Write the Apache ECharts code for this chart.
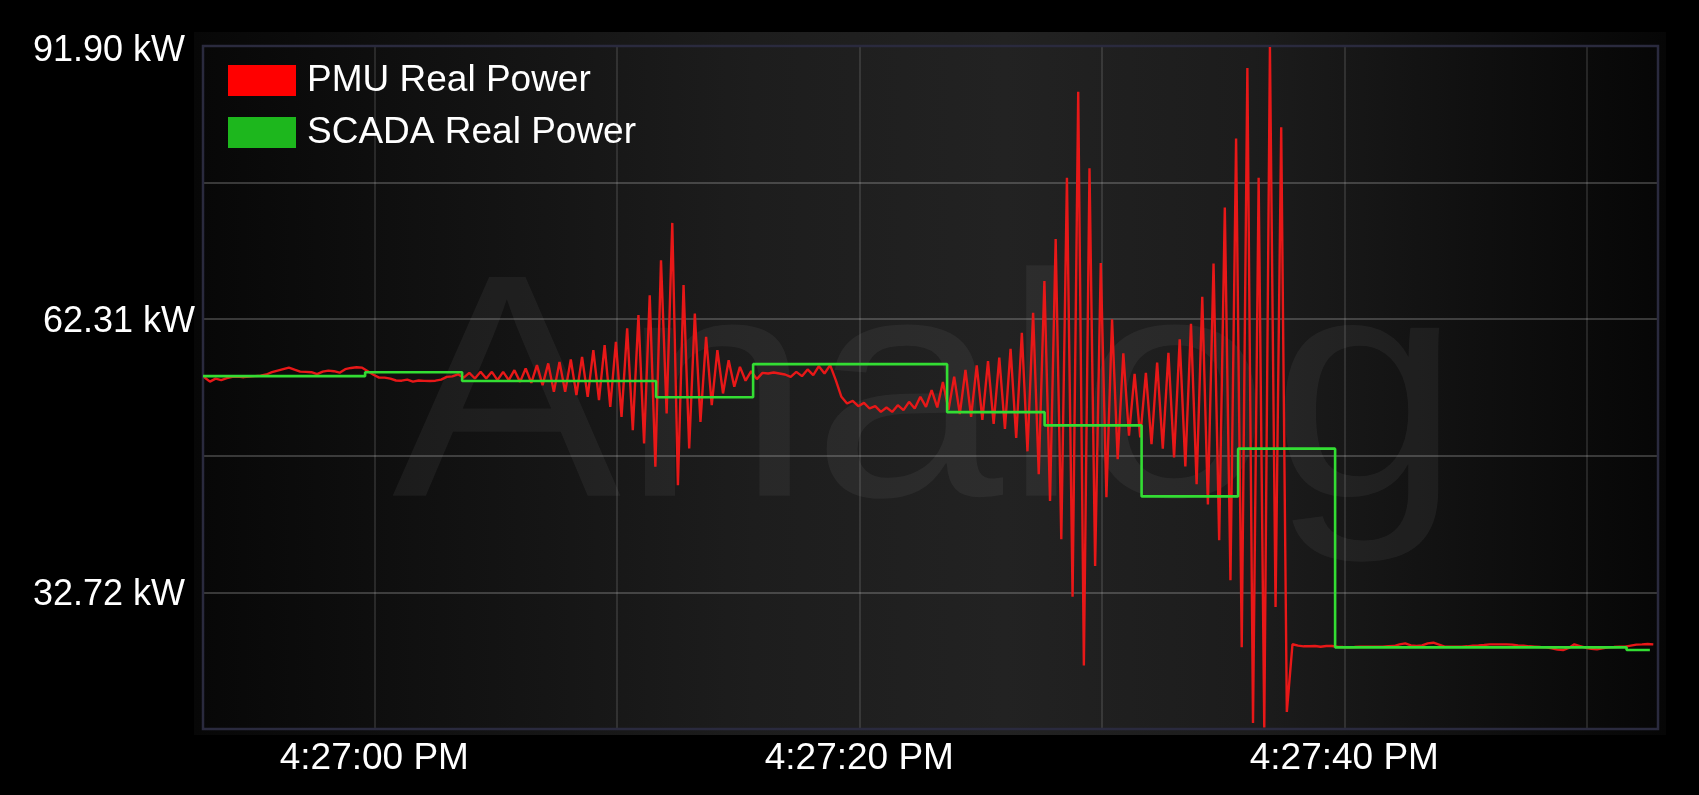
<!DOCTYPE html>
<html>
<head>
<meta charset="utf-8">
<script src="https://cdn.jsdelivr.net/npm/echarts@6/dist/echarts.min.js"></script>
<style>
html,body{margin:0;padding:0;background:#000;}
#chart{width:1699px;height:795px;}
</style>
</head>
<body>
<div id="chart"></div>
<script>
// ---- data (time in seconds relative to 4:27:00 PM, power in kW) ----
const seriesNames = ['PMU Real Power', 'SCADA Real Power'];

// PMU samples: regular grid (half period of the oscillation)
const pmuStartSec = -7.011;
const pmuStepSec = 0.2325;
const pmuPower = [
  56.03, 55.55, 55.87, 55.71, 55.92, 56.06, 56.09, 56.03, 56.11, 56.14,
  56.19, 56.32, 56.57, 56.74, 56.90, 57.06, 56.84, 56.63, 56.61, 56.57,
  56.36, 56.63, 56.74, 56.68, 56.52, 56.90, 57.03, 57.11, 57.06, 56.68,
  56.30, 55.98, 55.98, 55.87, 55.67, 55.65, 55.76, 55.55, 55.67, 55.63,
  55.62, 55.65, 55.76, 56.06, 56.12, 56.34, 55.98, 56.50, 55.89, 56.61,
  55.89, 56.61, 55.71, 56.61, 55.71, 56.79, 55.52, 56.97, 55.42, 57.33,
  55.17, 57.52, 54.44, 57.69, 54.44, 57.95, 54.08, 58.23, 53.90, 58.96,
  53.54, 59.50, 52.82, 59.86, 51.73, 61.31, 50.29, 62.75, 48.85, 64.91,
  46.32, 68.70, 52.10, 72.74, 44.34, 66.00, 48.31, 62.93, 51.19, 60.40,
  53.00, 58.96, 54.27, 57.87, 55.00, 57.15, 55.65, 56.68, 55.82, 56.50,
  56.43, 56.54, 56.43, 56.32, 56.06, 56.61, 56.14, 56.87, 56.25, 57.22,
  56.43, 57.33, 55.71, 53.90, 53.18, 53.46, 52.89, 53.25, 52.64, 52.89,
  52.27, 52.75, 52.27, 53.00, 52.46, 53.36, 52.64, 53.90, 52.82, 54.62,
  52.75, 55.52, 52.50, 56.09, 52.03, 56.82, 51.74, 57.32, 51.41, 57.76,
  50.97, 58.15, 50.43, 59.10, 49.45, 60.84, 48.00, 63.00, 45.51, 66.44,
  42.61, 71.00, 38.47, 77.62, 32.26, 86.94, 24.80, 78.66, 35.57, 68.39,
  43.03, 62.29, 47.16, 58.62, 49.70, 56.40, 49.50, 56.51, 48.78, 57.62,
  48.29, 58.68, 47.33, 60.13, 46.36, 61.82, 44.43, 64.73, 42.25, 68.35,
  38.38, 74.40, 34.03, 81.89, 26.79, 89.52, 18.57, 77.63, 18.08, 91.79,
  31.13, 83.09, 19.77, 27.10, 26.95, 26.88, 26.88, 26.91, 26.84, 26.91,
  26.91, 26.84, 26.80, 26.77, 26.80, 26.84, 26.84, 26.84, 26.84, 26.84,
  26.88, 26.91, 27.09, 27.20, 26.98, 26.91, 26.98, 27.20, 27.27, 27.06,
  26.84, 26.84, 26.84, 26.84, 26.88, 26.95, 26.98, 27.02, 27.09, 27.09,
  27.09, 27.09, 27.06, 26.98, 26.95, 26.88, 26.84, 26.80, 26.77, 26.66,
  26.52, 26.48, 26.70, 27.09, 26.91, 26.73, 26.62, 26.55, 26.66, 26.77,
  26.80, 26.84, 26.84, 26.95, 27.06, 27.09, 27.13, 27.09
];

// SCADA: sample-and-hold updates
const scadaTime = [-7.065, -0.38, 3.62, 7.62, 11.62, 15.62, 19.62, 23.62, 27.64, 31.64, 35.62, 39.62, 43.62, 47.62, 51.64, 52.6];
const scadaPower = [56.14, 56.57, 55.62, 55.62, 53.85, 57.44, 57.44, 52.24, 50.81, 43.12, 48.29, 26.77, 26.77, 26.77, 26.48, 26.48];

// axes
const xMinSec = -7.065;
const xMaxSec = 52.935;
const xLabelSec = [0, 20, 40];
const xTickLabels = ['4:27:00 PM', '4:27:20 PM', '4:27:40 PM'];
const yMin = 17.925;
const yMax = 91.90;
const yInterval = 14.795;
const yLabelValues = [32.72, 62.31, 91.90];
const yTickLabels = ['32.72 kW', '62.31 kW', '91.90 kW'];
const watermarkText = 'Analog';

// ---- chart ----
const FONT = '"Liberation Sans", Arial, sans-serif';
const chart = echarts.init(document.getElementById('chart'), null, {renderer: 'canvas'});

const pmuData = pmuPower.map((v, i) => [pmuStartSec + i * pmuStepSec, v]);
const scadaData = scadaPower.map((v, i) => [scadaTime[i], v]);

const gridL = 203, gridT = 46, gridW = 1455, gridH = 683;
const yRichKey = ['b', 'm', 't'];

chart.setOption({
  backgroundColor: '#000',
  animation: false,
  graphic: [
    {
      type: 'rect', z: -10, silent: true,
      shape: {x: 194, y: 32, width: 1472, height: 703},
      style: {
        fill: {
          type: 'linear', x: 0, y: 0, x2: 1, y2: 0,
          colorStops: [
            {offset: 0, color: '#070707'},
            {offset: 0.15, color: '#101010'},
            {offset: 0.38, color: '#1d1d1d'},
            {offset: 0.55, color: '#222222'},
            {offset: 0.72, color: '#1c1c1c'},
            {offset: 0.88, color: '#0f0f0f'},
            {offset: 1, color: '#060606'}
          ]
        }
      }
    },
    {
      type: 'text', z: -5, silent: true,
      x: 392, y: 408, scaleX: 1.08, scaleY: 1,
      style: {
        text: watermarkText, x: 0, y: 0,
        font: '318px "Liberation Sans", Arial, sans-serif',
        fill: 'rgba(255,255,255,0.05)',
        align: 'left', verticalAlign: 'middle'
      }
    },
    {
      type: 'rect', z: 1, silent: true,
      shape: {x: gridL, y: gridT, width: gridW, height: gridH},
      style: {fill: 'none', stroke: '#2a2a3e', lineWidth: 2.5}
    }
  ],
  grid: {left: gridL, top: gridT, width: gridW, height: gridH, containLabel: false},
  legend: {
    orient: 'vertical', left: 228, top: 62, padding: 0,
    itemWidth: 68, itemHeight: 31, itemGap: 15,
    icon: 'rect',
    textStyle: {color: '#fff', fontSize: 37, fontFamily: FONT, lineHeight: 31, padding: [0, 0, 0, 6]},
    data: [
      {name: seriesNames[0], itemStyle: {color: '#ff0000', borderWidth: 0}},
      {name: seriesNames[1], itemStyle: {color: '#1db71d', borderWidth: 0}}
    ]
  },
  xAxis: {
    type: 'value', min: xMinSec, max: xMaxSec, splitNumber: 6,
    axisLine: {show: false}, axisTick: {show: false},
    splitLine: {show: true, lineStyle: {color: 'rgba(200,200,200,0.2)', width: 1.5}},
    axisLabel: {
      color: '#fff', fontSize: 37, fontFamily: FONT, margin: 11,
      formatter: function (v) {
        for (let k = 0; k < xLabelSec.length; k++) {
          if (Math.abs(v - xLabelSec[k]) < 0.01) return xTickLabels[k];
        }
        return '';
      }
    }
  },
  yAxis: {
    type: 'value', min: yMin, max: yMax, interval: yInterval,
    axisLine: {show: false}, axisTick: {show: false},
    splitLine: {show: true, lineStyle: {color: 'rgba(210,210,210,0.33)', width: 1.5}},
    axisLabel: {
      color: '#fff', fontSize: 36, fontFamily: FONT, margin: 8,
      formatter: function (v) {
        for (let k = 0; k < yLabelValues.length; k++) {
          if (Math.abs(v - yLabelValues[k]) < 0.01) {
            return '{' + yRichKey[k] + '|' + yTickLabels[k] + '}';
          }
        }
        return '';
      },
      rich: {
        b: {color: '#fff', fontSize: 36, fontFamily: FONT, padding: [5, 10, 0, 0]},
        m: {color: '#fff', fontSize: 36, fontFamily: FONT, padding: [5, 0, 0, 0]},
        t: {color: '#fff', fontSize: 36, fontFamily: FONT, padding: [10, 10, 0, 0]}
      }
    }
  },
  series: [
    {
      name: seriesNames[0], type: 'line', data: pmuData,
      symbol: 'none', showSymbol: false, clip: true,
      lineStyle: {color: '#e81818', width: 2.4},
      itemStyle: {color: '#ff0000'},
      z: 2
    },
    {
      name: seriesNames[1], type: 'line', data: scadaData, step: 'end',
      symbol: 'none', showSymbol: false, clip: true,
      lineStyle: {color: '#33dd33', width: 2.6},
      itemStyle: {color: '#1db71d'},
      z: 3
    }
  ]
});
</script>
</body>
</html>
